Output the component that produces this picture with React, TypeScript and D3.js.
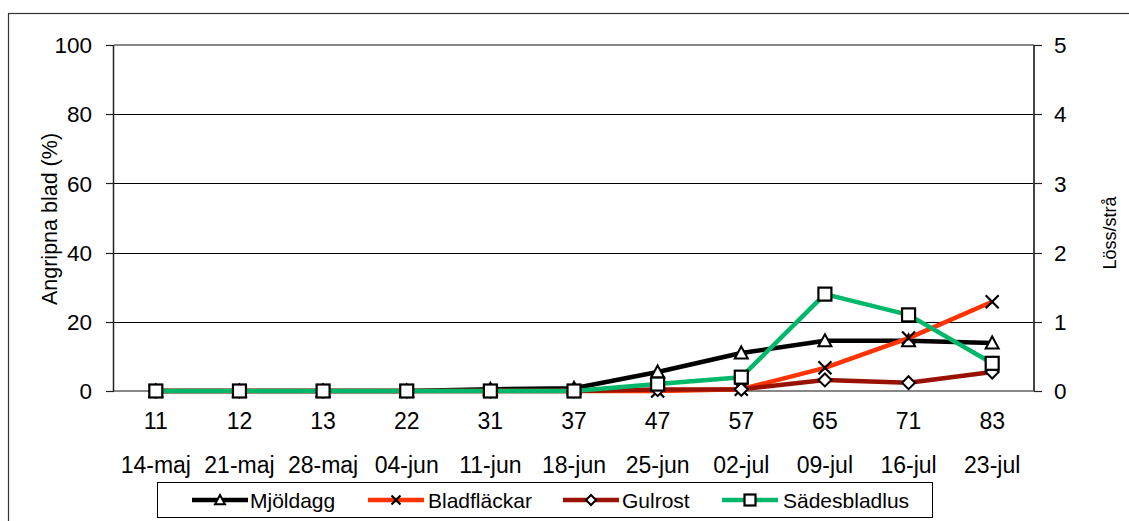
import React from "react";
import * as d3 from "d3";

// Growth stage codes and observation dates
const stages = ["11", "12", "13", "22", "31", "37", "47", "57", "65", "71", "83"];
const dates = ["14-maj", "21-maj", "28-maj", "04-jun", "11-jun", "18-jun", "25-jun", "02-jul", "09-jul", "16-jul", "23-jul"];

// Infested leaves (%), left axis
const mjoldagg = [0, 0, 0, 0, 0.5, 0.8, 5.5, 11, 14.5, 14.5, 13.9];
const bladflackar = [0, 0, 0, 0, 0, 0, 0, 0.5, 6.7, 15.3, 25.8];
const gulrost = [0, 0, 0, 0, 0, 0, 0.4, 0.5, 3.2, 2.4, 5.5];
// Aphids per straw, right axis
const sadesbladlus = [0, 0, 0, 0, 0, 0, 0.1, 0.2, 1.4, 1.1, 0.4];

const leftTicks = [0, 20, 40, 60, 80, 100];
const rightTicks = [0, 1, 2, 3, 4, 5];

const FONT = "'Liberation Sans', Arial, sans-serif";

type Marker = "triangle" | "cross" | "diamond" | "square";

interface Series {
  name: string;
  values: number[];
  color: string;
  marker: Marker;
  axis: "left" | "right";
}

const series: Series[] = [
  { name: "Mjöldagg", values: mjoldagg, color: "#000000", marker: "triangle", axis: "left" },
  { name: "Bladfläckar", values: bladflackar, color: "#ff3300", marker: "cross", axis: "left" },
  { name: "Gulrost", values: gulrost, color: "#991100", marker: "diamond", axis: "left" },
  { name: "Sädesbladlus", values: sadesbladlus, color: "#00b86b", marker: "square", axis: "right" },
];

function MarkerShape({ kind, x, y, size }: { kind: Marker; x: number; y: number; size: number }) {
  const h = size / 2;
  if (kind === "square") {
    return <rect x={x - h} y={y - h} width={size} height={size} fill="#fff" stroke="#000" strokeWidth={2.2} />;
  }
  if (kind === "triangle") {
    const pts = `${x},${y - h} ${x + h},${y + h * 0.85} ${x - h},${y + h * 0.85}`;
    return <polygon points={pts} fill="#fff" stroke="#000" strokeWidth={2} />;
  }
  if (kind === "diamond") {
    const pts = `${x},${y - h} ${x + h},${y} ${x},${y + h} ${x - h},${y}`;
    return <polygon points={pts} fill="#fff" stroke="#000" strokeWidth={2} />;
  }
  return (
    <g stroke="#000" strokeWidth={2.2}>
      <line x1={x - h} y1={y - h} x2={x + h} y2={y + h} />
      <line x1={x - h} y1={y + h} x2={x + h} y2={y - h} />
    </g>
  );
}

export default function App() {
  const W = 1129;
  const H = 521;
  const left = 114;
  const right = 1034;
  const top = 45;
  const bottom = 391;

  const x = d3.scalePoint<string>().domain(stages).range([left, right]).padding(0.5);
  const yL = d3.scaleLinear().domain([0, 100]).range([bottom, top]);
  const yR = d3.scaleLinear().domain([0, 5]).range([bottom, top]);

  const lineFor = (s: Series) =>
    d3
      .line<number>()
      .x((_, i) => x(stages[i]) as number)
      .y((v) => (s.axis === "left" ? yL(v) : yR(v)))(s.values) as string;

  const legendItems = [
    { s: series[0], lx: 192, tx: 250 },
    { s: series[1], lx: 368, tx: 428 },
    { s: series[2], lx: 563, tx: 622 },
    { s: series[3], lx: 722, tx: 783 },
  ];
  const legendMarkerSize: Record<Marker, number> = { triangle: 10, cross: 9, diamond: 10, square: 11 };

  return (
    <svg
      width={W}
      height={H}
      style={{ position: "absolute", left: 0, top: 0, background: "#fff" }}
      fontFamily={FONT}
    >
      {/* chart frame */}
      <rect x={8.5} y={13.5} width={W + 20} height={H + 20} fill="none" stroke="#333" strokeWidth={1.2} />

      {/* gridlines */}
      {leftTicks.slice(1, -1).map((t) => (
        <line key={`g${t}`} x1={left} x2={right} y1={Math.round(yL(t)) + 0.5} y2={Math.round(yL(t)) + 0.5} stroke="#000" strokeWidth={1} />
      ))}
      <line x1={left} x2={right} y1={yL(100)} y2={yL(100)} stroke="#888" strokeWidth={2} />
      <line x1={left} x2={right} y1={bottom} y2={bottom} stroke="#888" strokeWidth={2} />

      {/* left axis */}
      <line x1={left - 0.5} x2={left - 0.5} y1={top} y2={bottom} stroke="#222" strokeWidth={1.5} />
      {leftTicks.map((t) => (
        <g key={`l${t}`}>
          <line x1={left - 8} x2={left} y1={Math.round(yL(t)) + 0.5} y2={Math.round(yL(t)) + 0.5} stroke="#222" strokeWidth={1.2} />
          <text x={92} y={yL(t)} dy="0.36em" textAnchor="end" fontSize={22.5} fill="#000">
            {t}
          </text>
        </g>
      ))}

      {/* right axis */}
      <line x1={right} x2={right} y1={top} y2={bottom} stroke="#444" strokeWidth={2} />
      {rightTicks.map((t) => (
        <g key={`r${t}`}>
          <line x1={right} x2={right + 8} y1={Math.round(yR(t)) + 0.5} y2={Math.round(yR(t)) + 0.5} stroke="#222" strokeWidth={1.2} />
          <text x={1054} y={yR(t)} dy="0.36em" textAnchor="start" fontSize={22.5} fill="#000">
            {t}
          </text>
        </g>
      ))}

      {/* axis titles */}
      <text transform="translate(57,219) rotate(-90)" textAnchor="middle" fontSize={21.5} fill="#000">
        Angripna blad (%)
      </text>
      <text transform="translate(1116,233) rotate(-90)" textAnchor="middle" fontSize={18} fill="#000">
        Löss/strå
      </text>

      {/* category labels */}
      {stages.map((c, i) => (
        <g key={`c${c}`}>
          <text x={x(c) as number} y={429} textAnchor="middle" fontSize={23} fill="#000">
            {c}
          </text>
          <text x={x(c) as number} y={473} textAnchor="middle" fontSize={23} fill="#000">
            {dates[i]}
          </text>
        </g>
      ))}

      {/* series */}
      {series.map((s) => (
        <g key={s.name}>
          <path d={lineFor(s)} fill="none" stroke={s.color} strokeWidth={4.5} strokeLinejoin="round" />
          {s.values.map((v, i) => (
            <MarkerShape
              key={i}
              kind={s.marker}
              x={x(stages[i]) as number}
              y={s.axis === "left" ? yL(v) : yR(v)}
              size={13}
            />
          ))}
        </g>
      ))}

      {/* legend */}
      <rect x={157.5} y={482.5} width={775} height={35} fill="#fff" stroke="#000" strokeWidth={1} />
      {legendItems.map(({ s, lx, tx }) => (
        <g key={`lg${s.name}`}>
          <line x1={lx} x2={lx + 56} y1={500} y2={500} stroke={s.color} strokeWidth={4.5} />
          <MarkerShape kind={s.marker} x={lx + 28} y={500} size={legendMarkerSize[s.marker]} />
          <text x={tx} y={507.5} fontSize={21} fill="#000">
            {s.name}
          </text>
        </g>
      ))}
    </svg>
  );
}
